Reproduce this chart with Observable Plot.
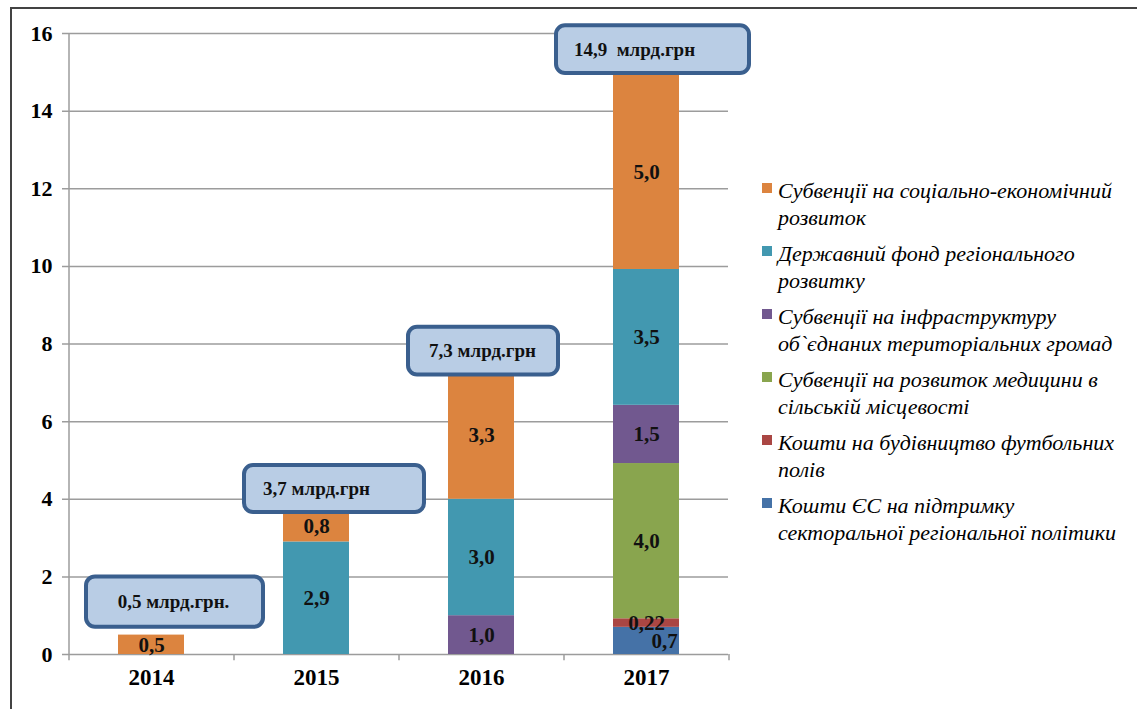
<!DOCTYPE html>
<html>
<head>
<meta charset="utf-8">
<script src="https://cdn.jsdelivr.net/npm/d3@7"></script>
<script src="https://cdn.jsdelivr.net/npm/@observablehq/plot@0.6"></script>
<style>
  html, body { margin: 0; padding: 0; background: #fff; overflow: hidden; width: 1137px; height: 709px; }
  #frame { position: absolute; left: 10px; top: 7px; width: 1300px; height: 900px; border: 2px solid #434343; box-sizing: border-box; }
  #chart { position: absolute; left: 0; top: 0; }
  #legend { position: absolute; left: 0; top: 0; font-family: "Liberation Serif", Tinos, "Times New Roman", "DejaVu Serif", serif; font-style: italic; font-size: 22px; line-height: 27px; color: #000; }
  .item { position: absolute; white-space: pre; }
  .sw { position: absolute; width: 10px; height: 10px; }
</style>
</head>
<body>
<div id="frame"></div>
<div id="chart"></div>
<div id="legend"></div>
<script>
// ---- data ----
const years = ["2014", "2015", "2016", "2017"];
// series listed bottom-to-top of the stack
const seriesNames = [
  "Кошти ЄС на підтримку\nсекторальної регіональної політики",
  "Кошти на будівництво футбольних\nполів",
  "Субвенції на розвиток медицини в\nсільській місцевості",
  "Субвенції на інфраструктуру\nоб`єднаних територіальних громад",
  "Державний фонд регіонального\nрозвитку",
  "Субвенції на соціально-економічний\nрозвиток"
];
const seriesColors = ["#4572A7", "#AA4643", "#89A54E", "#71588F", "#4298B0", "#DC843F"];
const valuesEU       = [0, 0, 0, 0.7];
const valuesFootball = [0, 0, 0, 0.22];
const valuesMedicine = [0, 0, 0, 4.0];
const valuesInfra    = [0, 0, 1.0, 1.5];
const valuesDFRR     = [0, 2.9, 3.0, 3.5];
const valuesSocio    = [0.5, 0.8, 3.3, 5.0];
const totalLabels = ["0,5 млрд.грн.", "3,7 млрд.грн", "7,3 млрд.грн", "14,9  млрд.грн"];
const boxLow  = [0.7, 3.66, 7.2, 14.97];
const boxHigh = [2.0, 4.87, 8.43, 16.2];
const yTicks = [0, 2, 4, 6, 8, 10, 12, 14, 16];

// ---- layout / style (not data) ----
const boxInsets = [[-32, -79], [-39, -75], [-40, -44], [-57, -70]];
const boxTextDx = [22, 0, 1, -12];
const serif = "Liberation Serif, Tinos, Times New Roman, DejaVu Serif, serif";
const gridColor = "#9c9c9c";
const W = 745, mL = 68, mR = 17;
const step = (W - mL - mR) / years.length;

const allValues = [valuesEU, valuesFootball, valuesMedicine, valuesInfra, valuesDFRR, valuesSocio];
const rows = [];
years.forEach((yr, yi) => {
  let base = 0;
  allValues.forEach((vals, si) => {
    const v = vals[yi];
    if (v > 0) rows.push({year: yr, series: seriesNames[si], value: v, si, mid: base + v / 2});
    base += v;
  });
});
const fmt = v => (Math.round(v * 100) % 10 !== 0 ? v.toFixed(2) : v.toFixed(1)).replace(".", ",");
const annots = years.map((y, i) => ({year: y, label: totalLabels[i], lo: boxLow[i], hi: boxHigh[i]}));

const boxMarks = annots.flatMap((a, i) => [
  Plot.barY([a], {x: "year", y1: "lo", y2: "hi", fill: "#B9CDE5", stroke: "#3A5F8E", strokeWidth: 4,
    rx: 9, insetLeft: boxInsets[i][0], insetRight: boxInsets[i][1]}),
  Plot.text([a], {x: "year", y: d => (d.lo + d.hi) / 2, text: "label", dx: boxTextDx[i],
    fontSize: 19, fontWeight: "bold", fontFamily: serif, fill: "#111"})
]);

const labelStyle = {fontSize: 21, fontWeight: "bold", fontFamily: serif, fill: "#111"};

const chart = Plot.plot({
  width: W, height: 709,
  marginTop: 33, marginBottom: 55, marginLeft: mL, marginRight: mR,
  x: {domain: years, paddingInner: 0.6, paddingOuter: 0.3, label: null},
  y: {domain: [0, 16], label: null},
  color: {domain: seriesNames, range: seriesColors},
  style: {fontFamily: serif, background: "transparent", overflow: "visible", color: "#000"},
  marks: [
    Plot.ruleY(yTicks, {stroke: gridColor, strokeWidth: 1.5, insetLeft: -6}),
    Plot.ruleX([years[0]], {dx: -step / 2, y1: 0, y2: 16, stroke: gridColor, strokeWidth: 1.5}),
    Plot.ruleX(years, {dx: -step / 2, y1: -0.16, y2: 0, stroke: gridColor, strokeWidth: 1.5}),
    Plot.ruleX([years[years.length - 1]], {dx: step / 2, y1: -0.16, y2: 0, stroke: gridColor, strokeWidth: 1.5}),
    Plot.axisY({ticks: yTicks, tickSize: 0, tickPadding: 16, fontSize: 22, fontWeight: "bold", fontFamily: serif, label: null}),
    Plot.axisX({tickSize: 0, tickPadding: 14, fontSize: 23, fontWeight: "bold", fontFamily: serif, label: null}),
    Plot.barY(rows, {x: "year", y: "value", fill: "series", order: seriesNames, z: "series"}),
    Plot.text(rows.filter(d => d.si !== 0), {x: "year", y: "mid", text: d => fmt(d.value), ...labelStyle}),
    Plot.text(rows.filter(d => d.si === 0), {x: "year", y: "mid", text: d => fmt(d.value), dx: 18, ...labelStyle}),
    ...boxMarks
  ]
});
document.getElementById("chart").appendChild(chart);

// legend (top-to-bottom = reverse stack order)
const legend = document.getElementById("legend");
const order = seriesNames.map((_, i) => i).reverse();
order.forEach((si, k) => {
  const top = 177 + k * 63;
  const sw = document.createElement("div");
  sw.className = "sw";
  sw.style.left = "762px";
  sw.style.top = (top + 6) + "px";
  sw.style.background = seriesColors[si];
  legend.appendChild(sw);
  const it = document.createElement("div");
  it.className = "item";
  it.style.left = "778px";
  it.style.top = top + "px";
  it.textContent = seriesNames[si];
  legend.appendChild(it);
});
</script>
</body>
</html>
